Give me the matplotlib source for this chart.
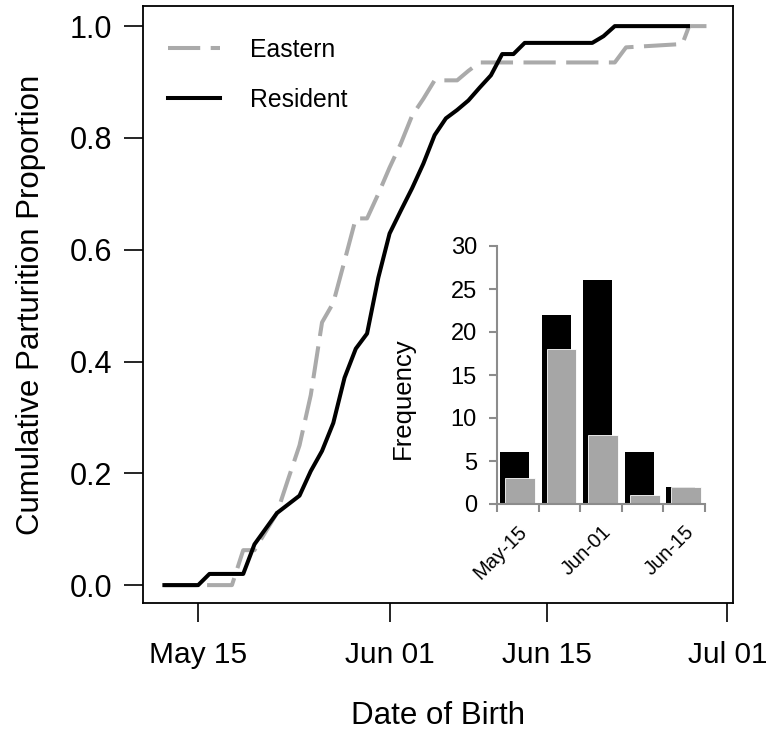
import numpy as np
import matplotlib
matplotlib.use("Agg")
import matplotlib.pyplot as plt

plt.rcParams['font.family'] = ['Liberation Sans', 'DejaVu Sans']

# days counted as day-of-May (May 15 = 15, Jun 01 = 32, Jul 01 = 62)
resident_day = [12, 15, 16, 19, 20, 22, 24, 25, 26, 27, 28, 29, 30, 31, 32, 33,
                34, 35, 36, 37, 38, 39, 40, 41, 42, 43, 44, 50, 51, 52, 58.5]
resident_cum = [0, 0, 0.02, 0.02, 0.073, 0.129, 0.16, 0.204, 0.24, 0.29, 0.371,
                0.423, 0.45, 0.55, 0.629, 0.67, 0.71, 0.754, 0.805, 0.835, 0.85,
                0.867, 0.89, 0.912, 0.95, 0.95, 0.97, 0.97, 0.982, 1.0, 1.0]

eastern_day = [12, 18, 19, 20, 22, 23, 24, 25, 26, 27, 28, 29, 30, 31, 32, 33,
               34, 35, 36, 38, 39, 40, 52, 53, 58, 58.6, 60.8]
eastern_cum = [0, 0, 0.0625, 0.0625, 0.129, 0.19, 0.25, 0.34, 0.47, 0.505, 0.58,
               0.656, 0.656, 0.70, 0.747, 0.79, 0.84, 0.87, 0.903, 0.903, 0.92,
               0.935, 0.935, 0.962, 0.968, 1.0, 1.0]

date_ticks = [15, 32, 46, 62]
date_labels = ['May 15', 'Jun 01', 'Jun 15', 'Jul 01']

# inset histogram (5 bins)
resident_freq = [6, 22, 26, 6, 2]
eastern_freq = [3, 18, 8, 1, 2]
bin_labels = ['May-15', 'Jun-01', 'Jun-15']

fig = plt.figure(figsize=(7.66, 7.35), dpi=100)
ax = fig.add_axes([143/766, 132/735, 590/766, 597/735])

ax.plot(eastern_day, eastern_cum, color='#aaaaaa', lw=2.9, dashes=(8, 2.6),
        label='Eastern')
ax.plot(resident_day, resident_cum, color='black', lw=2.9, label='Resident')

ax.set_xlim(10.1, 62.5)
ax.set_ylim(-0.032, 1.036)
ax.set_xticks(date_ticks)
ax.set_xticklabels(date_labels)
ax.set_yticks([0, 0.2, 0.4, 0.6, 0.8, 1.0])
ax.set_yticklabels(['0.0', '0.2', '0.4', '0.6', '0.8', '1.0'])
ax.tick_params(axis='both', length=13.5, width=1.2, labelsize=22)
ax.tick_params(axis='x', labelsize=21.5, pad=14)
ax.tick_params(axis='y', pad=8.6)
for s in ax.spines.values():
    s.set_linewidth(1.3)
ax.set_xlabel('Date of Birth', fontsize=22.5, labelpad=23)
ax.set_ylabel('Cumulative Parturition Proportion', fontsize=22.5, labelpad=17)

ax.legend(loc='upper left', bbox_to_anchor=(0.043, 0.947), frameon=False,
          fontsize=17.8, handlelength=2.1, handletextpad=1.2, labelspacing=1.05,
          borderaxespad=0, borderpad=0)

# inset
ins = fig.add_axes([497/766, 231/735, 208/766, 258/735])
x = np.arange(len(resident_freq))
ins.bar(x + 0.07, resident_freq, width=0.70, align='edge', color='black')
ins.bar(x + 0.19, eastern_freq, width=0.72, align='edge', color='#a6a6a6',
        edgecolor='white', linewidth=0.6)
ins.set_xlim(0, 5)
ins.set_ylim(0, 30)
ins.set_facecolor('none')
for side in ['top', 'right']:
    ins.spines[side].set_visible(False)
for side in ['left', 'bottom']:
    ins.spines[side].set_color('#8c8c8c')
    ins.spines[side].set_linewidth(1.5)
ins.set_yticks([0, 5, 10, 15, 20, 25, 30])
ins.set_xticks(np.arange(0, 6))
ins.set_xticklabels([])
ins.set_xticks([0.5, 2.5, 4.5], minor=True)
ins.set_xticklabels(bin_labels, minor=True, rotation=45, ha='right',
                    rotation_mode='anchor', fontsize=14.5)
ins.tick_params(axis='x', which='minor', length=0, pad=13)
ins.tick_params(axis='both', which='major', length=5.8, width=1.5,
                color='#8c8c8c', labelsize=17)
ins.tick_params(axis='y', pad=8.6)
ins.text(-0.452, 0.411, 'Frequency', transform=ins.transAxes, rotation=90,
         ha='center', va='center', fontsize=18.5)

fig.savefig('out.png', dpi=100)
